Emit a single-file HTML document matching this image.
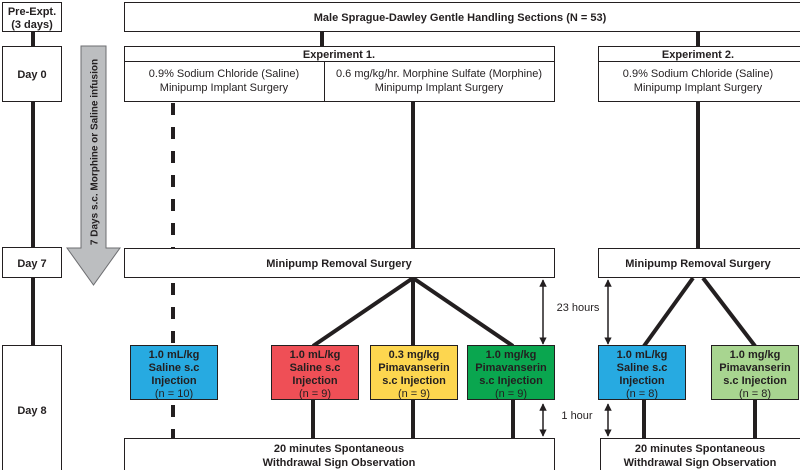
<!DOCTYPE html>
<html><head><meta charset="utf-8"><style>
html,body{margin:0;padding:0;background:#fff;}
svg{display:block;}
text{font-family:"Liberation Sans",Arial,sans-serif;fill:#231f20;}
.b{font-weight:bold;}
</style></head><body>
<svg width="800" height="470" viewBox="0 0 800 470" xmlns="http://www.w3.org/2000/svg">
<defs>
<marker id="ah" viewBox="0 0 10 10" refX="9" refY="5" markerWidth="5" markerHeight="5" orient="auto-start-reverse"><path d="M0,0 L10,5 L0,10 z" fill="#231f20"/></marker>
</defs>
<g stroke="#231f20" stroke-width="4" fill="none">
<line x1="33" y1="32" x2="33" y2="345"/>
<line x1="322" y1="32" x2="322" y2="46"/>
<line x1="698" y1="32" x2="698" y2="46"/>
<line x1="413" y1="101" x2="413" y2="248"/>
<line x1="698" y1="101" x2="698" y2="248"/>
<line x1="173" y1="103" x2="173" y2="248" stroke-dasharray="12 12"/>
<line x1="173" y1="283" x2="173" y2="345" stroke-dasharray="12 12"/>
<line x1="173" y1="405" x2="173" y2="438" stroke-dasharray="12 12"/>
<line x1="413" y1="278" x2="313" y2="346"/>
<line x1="413" y1="278" x2="413" y2="346"/>
<line x1="413" y1="278" x2="513" y2="346"/>
<line x1="313" y1="400" x2="313" y2="438"/>
<line x1="413" y1="400" x2="413" y2="438"/>
<line x1="513" y1="400" x2="513" y2="438"/>
<line x1="693" y1="278" x2="644" y2="346"/>
<line x1="703" y1="278" x2="755" y2="346"/>
<line x1="644" y1="400" x2="644" y2="438"/>
<line x1="755" y1="400" x2="755" y2="438"/>
</g>
<g stroke="#231f20" stroke-width="1.5" marker-start="url(#ah)" marker-end="url(#ah)">
<line x1="543" y1="280" x2="543" y2="344"/>
<line x1="608" y1="280" x2="608" y2="344"/>
<line x1="543" y1="404" x2="543" y2="436"/>
<line x1="608" y1="404" x2="608" y2="436"/>
</g>
<g stroke="#231f20" stroke-width="1" fill="#fff">
<rect x="2.5" y="2.5" width="59" height="29"/>
<rect x="2.5" y="46.5" width="59" height="55"/>
<rect x="2.5" y="247.5" width="59" height="30"/>
<rect x="2.5" y="345.5" width="59" height="130"/>
<rect x="124.5" y="2.5" width="680" height="29"/>
<rect x="124.5" y="46.5" width="430" height="55"/>
<line x1="124.5" y1="61.5" x2="554.5" y2="61.5"/>
<line x1="324.5" y1="61.5" x2="324.5" y2="101.5"/>
<rect x="598.5" y="46.5" width="210" height="55"/>
<line x1="598.5" y1="61.5" x2="808" y2="61.5"/>
<rect x="124.5" y="248.5" width="430" height="29"/>
<rect x="598.5" y="248.5" width="210" height="29"/>
<rect x="124.5" y="438.5" width="430" height="40"/>
<rect x="600.5" y="438.5" width="210" height="40"/>
<rect x="130.5" y="345.5" width="87" height="54" fill="#27aae1"/>
<rect x="271.5" y="345.5" width="87" height="54" fill="#ef4f56"/>
<rect x="370.5" y="345.5" width="87" height="54" fill="#fdd64f"/>
<rect x="467.5" y="345.5" width="87" height="54" fill="#0aa64f"/>
<rect x="598.5" y="345.5" width="87" height="54" fill="#27aae1"/>
<rect x="711.5" y="345.5" width="87" height="54" fill="#a8d590"/>
</g>
<path d="M81,46 H106 V248 H120 L93.5,285 L67,248 H81 Z" fill="#bcbec0" stroke="#6d6e71" stroke-width="1"/>
<text class="b" font-size="10" text-anchor="middle" transform="translate(97.5,152) rotate(-90)">7 Days s.c. Morphine or Saline infusion</text>
<g font-size="11" text-anchor="middle">
<text class="b" x="32" y="15">Pre-Expt.</text>
<text class="b" x="32" y="28">(3 days)</text>
<text class="b" x="32" y="78">Day 0</text>
<text class="b" x="32" y="267">Day 7</text>
<text class="b" x="32" y="414">Day 8</text>
<text class="b" x="460" y="21">Male Sprague-Dawley Gentle Handling Sections (N = 53)</text>
<text class="b" x="339" y="58">Experiment 1.</text>
<text class="b" x="698" y="58">Experiment 2.</text>
<text x="224" y="77">0.9% Sodium Chloride (Saline)</text>
<text x="224" y="91">Minipump Implant Surgery</text>
<text x="439" y="77">0.6 mg/kg/hr. Morphine Sulfate (Morphine)</text>
<text x="439" y="91">Minipump Implant Surgery</text>
<text x="698" y="77">0.9% Sodium Chloride (Saline)</text>
<text x="698" y="91">Minipump Implant Surgery</text>
<text class="b" x="339" y="267">Minipump Removal Surgery</text>
<text class="b" x="698" y="267">Minipump Removal Surgery</text>
<text class="b" x="339" y="452">20 minutes Spontaneous</text>
<text class="b" x="339" y="466">Withdrawal Sign Observation</text>
<text class="b" x="700" y="452">20 minutes Spontaneous</text>
<text class="b" x="700" y="466">Withdrawal Sign Observation</text>
<text x="578" y="311">23 hours</text>
<text x="577" y="419">1 hour</text>
</g>
<g font-size="11" text-anchor="middle">
<g transform="translate(174,0)"><text class="b" y="358">1.0 mL/kg</text><text class="b" y="371">Saline s.c</text><text class="b" y="384">Injection</text><text y="397">(n = 10)</text></g>
<g transform="translate(315,0)"><text class="b" y="358">1.0 mL/kg</text><text class="b" y="371">Saline s.c</text><text class="b" y="384">Injection</text><text y="397">(n = 9)</text></g>
<g transform="translate(414,0)"><text class="b" y="358">0.3 mg/kg</text><text class="b" y="371">Pimavanserin</text><text class="b" y="384">s.c Injection</text><text y="397">(n = 9)</text></g>
<g transform="translate(511,0)"><text class="b" y="358">1.0 mg/kg</text><text class="b" y="371">Pimavanserin</text><text class="b" y="384">s.c Injection</text><text y="397">(n = 9)</text></g>
<g transform="translate(642,0)"><text class="b" y="358">1.0 mL/kg</text><text class="b" y="371">Saline s.c</text><text class="b" y="384">Injection</text><text y="397">(n = 8)</text></g>
<g transform="translate(755,0)"><text class="b" y="358">1.0 mg/kg</text><text class="b" y="371">Pimavanserin</text><text class="b" y="384">s.c Injection</text><text y="397">(n = 8)</text></g>
</g>
</svg>
</body></html>
